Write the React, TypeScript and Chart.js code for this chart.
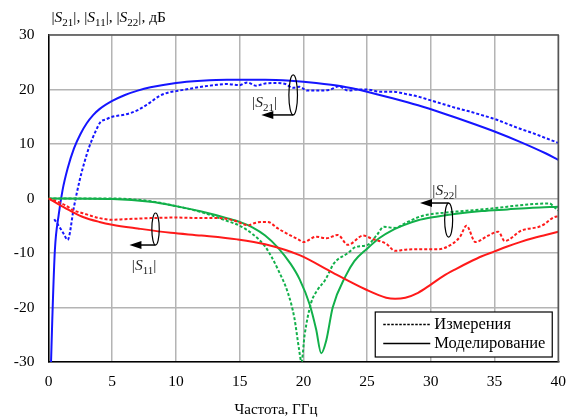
import React, { useEffect, useRef } from "react";
import { Chart, registerables } from "chart.js";

Chart.register(...registerables);

// ---- Data (frequency in GHz, magnitude in dB) ----
const s21MeasF = [0.45, 0.8, 1.2, 1.5, 2.0, 2.45, 2.8, 3.2, 3.75, 4.1, 4.5, 5, 6, 7, 7.9, 8.7, 9.5, 10, 11, 12, 13, 14, 15, 15.6, 16.3, 17, 18, 18.6, 19.2, 19.7, 20.3, 21, 22, 22.8, 23.5, 24.3, 25, 26, 27, 28, 29, 30, 31, 32, 33, 34, 35, 36, 37, 38, 39, 40];
const s21MeasDb = [-3.8, -5, -6.5, -7.6, -1.5, 3.4, 6.5, 9.5, 12.6, 14.1, 14.5, 15, 15.4, 16.2, 17.5, 18.8, 19.5, 19.7, 20.1, 20.5, 20.8, 21, 20.8, 21.3, 20.7, 21.1, 21.2, 21, 20.3, 20.5, 19.8, 19.8, 19.9, 20.6, 19.8, 20, 20, 19.6, 19.6, 19.2, 18.7, 18, 17.3, 16.6, 16, 15.3, 14.6, 13.7, 12.8, 12, 11.1, 10.2];

const s21SimF = [0.2, 0.3, 0.5, 0.8, 1.1, 1.5, 2, 2.5, 3, 3.5, 4, 5, 6, 7, 8, 10, 12, 14, 17, 19, 21, 23, 25, 27, 29, 31, 33, 35, 37, 39, 40];
const s21SimDb = [-30, -22, -9.5, -3, 1.5, 5.5, 9.2, 11.8, 13.8, 15.3, 16.4, 17.9, 19, 19.8, 20.4, 21.2, 21.6, 21.8, 21.8, 21.6, 21.2, 20.6, 19.6, 18.4, 17.1, 15.6, 14, 12.3, 10.4, 8.3, 7.1];

const s11MeasF = [0, 1.3, 1.9, 2.7, 4, 5, 6, 8, 10, 12, 13.4, 14.5, 15.7, 16.2, 16.7, 17.2, 18, 18.6, 19.6, 20, 21, 21.8, 22.7, 23.5, 24.7, 25.4, 26.5, 27.2, 28, 29.3, 30.6, 31.7, 32.3, 32.8, 33.5, 34.5, 35.3, 35.8, 37.1, 38.7, 39.7, 40];
const s11MeasDb = [0, -1.2, -2.1, -2.7, -3.6, -3.9, -3.8, -3.6, -3.5, -3.6, -3.6, -4, -4.9, -4.5, -4.3, -4.3, -5.5, -6.3, -7.5, -8, -7, -7.3, -6.7, -8.5, -6.8, -7.4, -8.3, -9.6, -9.4, -9.3, -9.3, -8.3, -7, -5, -8, -6.8, -6.1, -7.8, -5.9, -5, -3.4, -3.3];

const s11SimF = [0, 0.9, 1.9, 2.7, 4, 5, 7, 9.6, 12, 14.8, 17, 19.7, 22.3, 24.9, 26.5, 27.2, 28, 29, 30, 31, 32, 33, 34, 35, 36, 37, 38, 39, 40];
const s11SimDb = [0, -1.2, -2.5, -3.4, -4.3, -4.8, -5.5, -6.3, -6.8, -7.5, -8.4, -10.4, -13.6, -16.7, -18.2, -18.4, -18.2, -17.3, -15.8, -14.2, -12.9, -11.7, -10.6, -9.7, -8.8, -8, -7.3, -6.7, -6.1];

const s22MeasF = [0, 5, 8, 10, 12, 14, 15, 16, 17, 17.5, 18, 18.8, 19.3, 19.65, 19.85, 20.1, 20.6, 21.1, 21.7, 22.4, 23.5, 24.1, 25.05, 25.8, 26.3, 27.2, 28, 29.3, 31, 32, 34.5, 36, 37.6, 39.3, 39.7, 40];
const s22MeasDb = [0, 0, -0.5, -1.4, -2.5, -4.1, -5, -6.5, -8.8, -10.7, -13, -17.4, -22, -27.5, -30, -25, -19.2, -16.8, -15, -11.9, -10, -8.9, -8.5, -6.6, -5.2, -5.4, -4.5, -3.2, -2.6, -2.4, -1.9, -1.5, -1.1, -0.9, -1.6, -2.2];

const s22SimF = [0, 5, 8, 10, 12, 14, 15, 16, 17, 18, 19, 19.7, 20.5, 21, 21.4, 21.8, 22.3, 23.3, 24, 25, 26, 27, 28, 29, 30, 32, 34, 36, 38, 40];
const s22SimDb = [0, -0.1, -0.6, -1.4, -2.4, -3.6, -4.3, -5.3, -6.8, -9, -12, -14.8, -19.5, -24, -28.4, -26, -20, -14.3, -11.5, -9.2, -7.2, -5.8, -4.8, -4, -3.5, -2.8, -2.3, -2, -1.7, -1.5];

const xTicks = [0, 5, 10, 15, 20, 25, 30, 35, 40];
const yTicks = [-30, -20, -10, 0, 10, 20, 30];

const legendLabels = ["Измерения", "Моделирование"];
const xTitle = "Частота, ГГц";

const BLUE = "#1515ff";
const RED = "#ff1a1a";
const GREEN = "#12b04a";
const SERIF = "'Liberation Serif', 'Times New Roman', serif";

const toPts = (xs: number[], ys: number[]) => xs.map((x, i) => ({ x, y: ys[i] }));

type Part = { t: string; italic?: boolean; sub?: boolean };

function sParts(sub: string): Part[] {
  return [{ t: "|" }, { t: "S", italic: true }, { t: sub, sub: true }, { t: "|" }];
}

function drawRich(ctx: CanvasRenderingContext2D, x: number, y: number, parts: Part[], size: number, align: "left" | "center") {
  const fontOf = (p: Part) => `${p.italic ? "italic " : ""}${p.sub ? Math.round(size * 0.72) : size}px ${SERIF}`;
  let total = 0;
  const widths = parts.map((p) => {
    ctx.font = fontOf(p);
    const w = ctx.measureText(p.t).width;
    total += w;
    return w;
  });
  let cx = align === "center" ? x - total / 2 : x;
  ctx.textBaseline = "alphabetic";
  ctx.textAlign = "left";
  parts.forEach((p, i) => {
    ctx.font = fontOf(p);
    ctx.fillText(p.t, cx, y + (p.sub ? size * 0.25 : 0));
    cx += widths[i];
  });
}

const annotations = [
  { label: "21", ex: 19.2, ey: 19.0, rx: 4.3, ry: 20, arrowAtTop: false, tipX: 16.7, lx: 16.95, ly: 17.7 },
  { label: "11", ex: 8.4, ey: -5.6, rx: 3.7, ry: 16, arrowAtTop: false, tipX: 6.35, lx: 7.5, ly: -12.2 },
  { label: "22", ex: 31.4, ey: -3.95, rx: 4, ry: 17, arrowAtTop: true, tipX: 29.15, lx: 31.1, ly: 1.55 },
];

const decorPlugin = {
  id: "decor",
  afterDatasetsDraw(chart: any) {
    const { ctx, chartArea, scales } = chart;
    const xs = scales.x;
    const ys = scales.y;
    ctx.save();
    ctx.strokeStyle = "#555";
    ctx.lineWidth = 1.5;
    ctx.beginPath();
    ctx.moveTo(chartArea.left, chartArea.top);
    ctx.lineTo(chartArea.right, chartArea.top);
    ctx.lineTo(chartArea.right, chartArea.bottom);
    ctx.stroke();

    ctx.fillStyle = "#000";
    ctx.strokeStyle = "#000";
    for (const a of annotations) {
      const cx = xs.getPixelForValue(a.ex);
      const cy = ys.getPixelForValue(a.ey);
      ctx.lineWidth = 1.2;
      ctx.beginPath();
      ctx.ellipse(cx, cy, a.rx, a.ry, 0, 0, Math.PI * 2);
      ctx.stroke();
      const ay = a.arrowAtTop ? cy - a.ry : cy + a.ry;
      const tx = xs.getPixelForValue(a.tipX);
      ctx.lineWidth = 1.5;
      ctx.beginPath();
      ctx.moveTo(cx, ay);
      ctx.lineTo(tx + 10, ay);
      ctx.stroke();
      ctx.beginPath();
      ctx.moveTo(tx, ay);
      ctx.lineTo(tx + 12, ay - 4);
      ctx.lineTo(tx + 12, ay + 4);
      ctx.closePath();
      ctx.fill();
      ctx.fillStyle = "#222";
      drawRich(ctx, xs.getPixelForValue(a.lx), ys.getPixelForValue(a.ly) + 5, sParts(a.label), 15.5, "center");
      ctx.fillStyle = "#000";
    }

    const bw = 177, bh = 45;
    const bx = chartArea.right - 6 - bw;
    const by = chartArea.bottom - 5 - bh;
    ctx.fillStyle = "#fff";
    ctx.fillRect(bx, by, bw, bh);
    ctx.strokeStyle = "#000";
    ctx.lineWidth = 1.2;
    ctx.strokeRect(bx, by, bw, bh);
    ctx.lineWidth = 1.5;
    ctx.setLineDash([2.5, 1.5]);
    ctx.beginPath();
    ctx.moveTo(bx + 8, by + 12.5);
    ctx.lineTo(bx + 55, by + 12.5);
    ctx.stroke();
    ctx.setLineDash([]);
    ctx.beginPath();
    ctx.moveTo(bx + 8, by + 31.5);
    ctx.lineTo(bx + 55, by + 31.5);
    ctx.stroke();
    ctx.fillStyle = "#000";
    ctx.font = `16.5px ${SERIF}`;
    ctx.textAlign = "left";
    ctx.textBaseline = "middle";
    ctx.fillText(legendLabels[0], bx + 59, by + 13);
    ctx.fillText(legendLabels[1], bx + 59, by + 32);
    ctx.restore();
  },
  afterDraw(chart: any) {
    const { ctx, chartArea } = chart;
    ctx.save();
    ctx.fillStyle = "#000";
    const parts: Part[] = [
      ...sParts("21"), { t: ", " }, ...sParts("11"), { t: ", " }, ...sParts("22"), { t: ", дБ" },
    ];
    drawRich(ctx, chartArea.left + 3, 22, parts, 15.5, "left");
    ctx.font = `15px ${SERIF}`;
    ctx.textAlign = "center";
    ctx.textBaseline = "middle";
    ctx.fillText(xTitle, 276, 410);
    ctx.restore();
  },
};

export default function App() {
  const ref = useRef<HTMLCanvasElement | null>(null);
  useEffect(() => {
    if (!ref.current) return;
    const solid = { borderWidth: 2, pointRadius: 0, cubicInterpolationMode: "monotone" as const, fill: false };
    const dashed = { ...solid, borderDash: [3, 2] };
    const chart = new Chart(ref.current, {
      type: "line",
      data: {
        datasets: [
          { ...dashed, label: "S11 изм", data: toPts(s11MeasF, s11MeasDb), borderColor: RED },
          { ...solid, label: "S11 мод", data: toPts(s11SimF, s11SimDb), borderColor: RED },
          { ...dashed, label: "S22 изм", data: toPts(s22MeasF, s22MeasDb), borderColor: GREEN },
          { ...solid, label: "S22 мод", data: toPts(s22SimF, s22SimDb), borderColor: GREEN },
          { ...dashed, label: "S21 изм", data: toPts(s21MeasF, s21MeasDb), borderColor: BLUE },
          { ...solid, label: "S21 мод", data: toPts(s21SimF, s21SimDb), borderColor: BLUE },
        ],
      },
      options: {
        responsive: false,
        animation: false,
        layout: { padding: { top: 35, right: 15, left: 0, bottom: 0 } },
        plugins: { legend: { display: false }, tooltip: { enabled: false }, title: { display: false } },
        scales: {
          x: {
            type: "linear",
            min: 0,
            max: 40,
            afterBuildTicks: (s: any) => { s.ticks = xTicks.map((v) => ({ value: v })); },
            afterFit: (s: any) => { s.height = 56; },
            grid: { color: "#b4b4b4", lineWidth: 1.5, drawTicks: false },
            border: { display: true, color: "#000", width: 1.5 },
            ticks: { color: "#000", font: { family: SERIF, size: 15.5 }, padding: 11, maxRotation: 0 },
          },
          y: {
            type: "linear",
            min: -30,
            max: 30,
            afterBuildTicks: (s: any) => { s.ticks = yTicks.map((v) => ({ value: v })); },
            afterFit: (s: any) => { s.width = 48.5; },
            grid: { color: "#b4b4b4", lineWidth: 1.5, drawTicks: false },
            border: { display: true, color: "#000", width: 1.5 },
            ticks: { color: "#000", font: { family: SERIF, size: 15.5 }, padding: 14 },
          },
        },
      },
      plugins: [decorPlugin],
    });
    return () => chart.destroy();
  }, []);
  return (
    <div style={{ position: "absolute", left: 0, top: 0, width: 577, height: 418, background: "#fff" }}>
      <canvas ref={ref} width={577} height={418} style={{ width: 577, height: 418, display: "block" }} />
    </div>
  );
}
